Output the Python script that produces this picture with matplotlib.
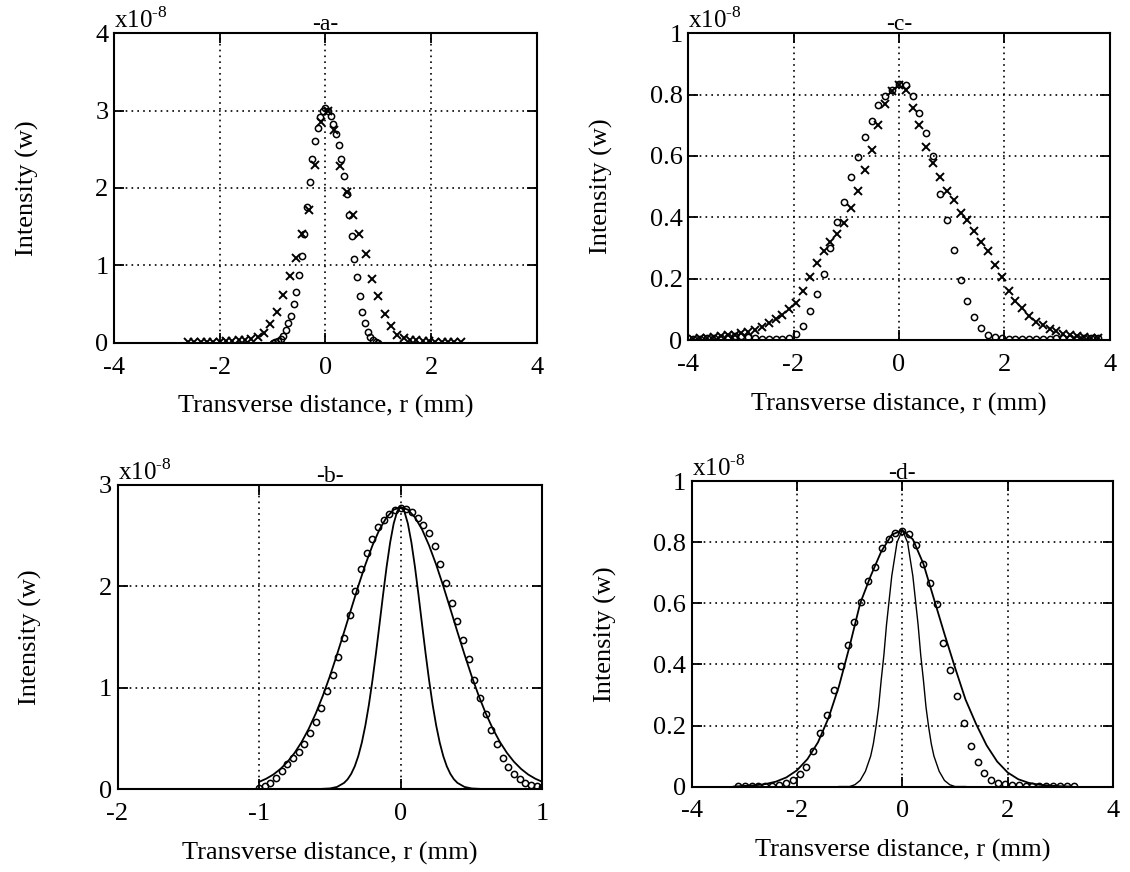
import matplotlib
matplotlib.use("Agg")
import matplotlib.pyplot as plt

plt.rcParams['font.family'] = ['Liberation Serif', 'DejaVu Serif']
plt.rcParams['mathtext.fontset'] = 'custom'
plt.rcParams['mathtext.rm'] = 'Liberation Serif'
plt.rcParams['axes.unicode_minus'] = False

# ---- panel a : circles (narrow) and x marks (wider)
a_circ_x = [-1.00, -0.95, -0.90, -0.85, -0.80, -0.75, -0.70, -0.65, -0.60, -0.55,
            -0.50, -0.45, -0.40, -0.35, -0.30, -0.25, -0.20, -0.15, -0.10, -0.05,
            0.00, 0.05, 0.10, 0.15, 0.20, 0.25, 0.30, 0.35, 0.40, 0.45,
            0.50, 0.55, 0.60, 0.65, 0.70, 0.75, 0.80, 0.85, 0.90, 0.95, 1.00]
a_circ_y = [0.00, 0.01, 0.02, 0.05, 0.09, 0.16, 0.25, 0.35, 0.50, 0.66,
            0.88, 1.12, 1.40, 1.75, 2.08, 2.38, 2.60, 2.78, 2.92, 3.00,
            3.03, 3.00, 2.93, 2.83, 2.70, 2.55, 2.38, 2.15, 1.92, 1.65,
            1.38, 1.08, 0.85, 0.60, 0.40, 0.25, 0.14, 0.07, 0.03, 0.01, 0.00]
a_x_x = [-2.60, -2.48, -2.36, -2.24, -2.12, -2.00, -1.88, -1.76, -1.64, -1.52,
         -1.40, -1.28, -1.16, -1.04, -0.92, -0.80, -0.68, -0.56, -0.44, -0.32,
         -0.20, -0.08, 0.04, 0.16, 0.28, 0.40, 0.52, 0.64, 0.76, 0.88,
         1.00, 1.12, 1.24, 1.36, 1.48, 1.60, 1.72, 1.84, 1.96, 2.08,
         2.20, 2.32, 2.44, 2.56]
a_x_y = [0.01, 0.01, 0.01, 0.01, 0.01, 0.01, 0.02, 0.02, 0.03, 0.04,
         0.05, 0.08, 0.13, 0.24, 0.40, 0.62, 0.86, 1.10, 1.40, 1.72,
         2.30, 2.85, 3.00, 2.75, 2.28, 1.95, 1.65, 1.40, 1.14, 0.82,
         0.60, 0.37, 0.22, 0.10, 0.06, 0.04, 0.03, 0.02, 0.02, 0.01,
         0.01, 0.01, 0.01, 0.01]

# ---- panel b : two solid curves and circles
b_wide_x = [-1.00, -0.95, -0.90, -0.85, -0.80, -0.75, -0.70, -0.65, -0.60, -0.55,
            -0.50, -0.45, -0.40, -0.35, -0.30, -0.25, -0.20, -0.15, -0.10, -0.05,
            0.00, 0.05, 0.10, 0.15, 0.20, 0.25, 0.30, 0.35, 0.40, 0.45,
            0.50, 0.55, 0.60, 0.65, 0.70, 0.75, 0.80, 0.85, 0.90, 0.95, 1.00]
b_wide_y = [0.072, 0.103, 0.144, 0.199, 0.269, 0.357, 0.465, 0.595, 0.747, 0.922,
            1.116, 1.328, 1.550, 1.777, 2.002, 2.213, 2.402, 2.561, 2.680, 2.755,
            2.780, 2.755, 2.680, 2.561, 2.402, 2.213, 2.002, 1.777, 1.550, 1.328,
            1.116, 0.922, 0.747, 0.595, 0.465, 0.357, 0.269, 0.199, 0.144, 0.103, 0.072]
b_narrow_x = [-1.00, -0.60, -0.50, -0.45, -0.40, -0.375, -0.35, -0.325, -0.30, -0.275,
              -0.25, -0.225, -0.20, -0.175, -0.15, -0.125, -0.10, -0.075, -0.05, -0.025,
              0.00, 0.025, 0.05, 0.075, 0.10, 0.125, 0.15, 0.175, 0.20, 0.225,
              0.25, 0.275, 0.30, 0.325, 0.35, 0.375, 0.40, 0.45, 0.50, 0.60, 1.00]
b_narrow_y = [0.0, 0.0, 0.007, 0.022, 0.062, 0.098, 0.151, 0.225, 0.326, 0.459,
              0.628, 0.833, 1.073, 1.341, 1.627, 1.917, 2.192, 2.432, 2.619, 2.739,
              2.780, 2.739, 2.619, 2.432, 2.192, 1.917, 1.627, 1.341, 1.073, 0.833,
              0.628, 0.459, 0.326, 0.225, 0.151, 0.098, 0.062, 0.022, 0.007, 0.0, 0.0]
b_circ_x = [-1.00, -0.96, -0.92, -0.88, -0.84, -0.80, -0.76, -0.72, -0.68, -0.64,
            -0.60, -0.56, -0.52, -0.48, -0.44, -0.40, -0.36, -0.32, -0.28, -0.24,
            -0.20, -0.16, -0.12, -0.08, -0.04, 0.00, 0.04, 0.08, 0.12, 0.16,
            0.20, 0.24, 0.28, 0.32, 0.36, 0.40, 0.44, 0.48, 0.52, 0.56,
            0.60, 0.64, 0.68, 0.72, 0.76, 0.80, 0.84, 0.88, 0.92, 0.96, 1.00]
b_circ_y = [0.01, 0.03, 0.06, 0.11, 0.18, 0.25, 0.31, 0.37, 0.45, 0.55,
            0.66, 0.80, 0.97, 1.13, 1.30, 1.49, 1.72, 1.95, 2.17, 2.33,
            2.47, 2.58, 2.65, 2.71, 2.75, 2.77, 2.76, 2.73, 2.67, 2.60,
            2.53, 2.40, 2.22, 2.03, 1.84, 1.66, 1.47, 1.28, 1.08, 0.90,
            0.74, 0.58, 0.45, 0.31, 0.22, 0.15, 0.10, 0.06, 0.04, 0.03, 0.02]

# ---- panel c : circles and x marks
c_x = [-3.90, -3.77, -3.64, -3.51, -3.38, -3.25, -3.12, -2.99, -2.86, -2.73,
       -2.60, -2.47, -2.34, -2.21, -2.08, -1.95, -1.82, -1.69, -1.56, -1.43,
       -1.30, -1.17, -1.04, -0.91, -0.78, -0.65, -0.52, -0.39, -0.26, -0.13,
       0.00, 0.13, 0.26, 0.39, 0.52, 0.65, 0.78, 0.91, 1.04, 1.17,
       1.30, 1.43, 1.56, 1.69, 1.82, 1.95, 2.08, 2.21, 2.34, 2.47,
       2.60, 2.73, 2.86, 2.99, 3.12, 3.25, 3.38, 3.51, 3.64, 3.77]
c_circ_y = [0.005, 0.005, 0.006, 0.007, 0.008, 0.010, 0.012, 0.013, 0.010, 0.007,
            0.005, 0.004, 0.004, 0.005, 0.008, 0.020, 0.045, 0.095, 0.150, 0.215,
            0.300, 0.385, 0.450, 0.530, 0.595, 0.660, 0.715, 0.765, 0.795, 0.815,
            0.835, 0.830, 0.796, 0.740, 0.675, 0.600, 0.475, 0.390, 0.293, 0.197,
            0.128, 0.076, 0.038, 0.018, 0.010, 0.006, 0.005, 0.005, 0.005, 0.005,
            0.005, 0.005, 0.005, 0.006, 0.006, 0.007, 0.008, 0.008, 0.007, 0.006]
c_xm_y = [0.005, 0.006, 0.008, 0.010, 0.012, 0.015, 0.018, 0.022, 0.027, 0.033,
          0.042, 0.055, 0.068, 0.082, 0.100, 0.122, 0.160, 0.205, 0.250, 0.290,
          0.320, 0.345, 0.380, 0.430, 0.485, 0.555, 0.620, 0.700, 0.770, 0.810,
          0.830, 0.815, 0.755, 0.700, 0.630, 0.577, 0.530, 0.485, 0.455, 0.415,
          0.390, 0.355, 0.320, 0.290, 0.245, 0.205, 0.160, 0.128, 0.105, 0.078,
          0.060, 0.048, 0.036, 0.028, 0.020, 0.015, 0.012, 0.010, 0.008, 0.006]

# ---- panel d : two solid curves and circles
d_wide_x = [-3.2, -3.0, -2.8, -2.6, -2.4, -2.2, -2.0, -1.8, -1.6, -1.4,
            -1.2, -1.0, -0.8, -0.6, -0.4, -0.2, 0.0, 0.2, 0.4, 0.6,
            0.8, 1.0, 1.2, 1.4, 1.6, 1.8, 2.0, 2.2, 2.4, 2.6,
            2.8, 3.0, 3.2]
d_wide_y = [0.0, 0.002, 0.004, 0.008, 0.016, 0.030, 0.053, 0.090, 0.145, 0.225,
            0.330, 0.460, 0.600, 0.690, 0.770, 0.825, 0.840, 0.810, 0.730, 0.615,
            0.500, 0.390, 0.285, 0.205, 0.135, 0.082, 0.046, 0.024, 0.012, 0.006,
            0.003, 0.001, 0.0]
d_narrow_x = [-1.2, -1.0, -0.9, -0.8, -0.7, -0.6, -0.55, -0.5, -0.45, -0.4,
              -0.35, -0.3, -0.25, -0.2, -0.1, 0.0, 0.1, 0.2, 0.25, 0.3,
              0.35, 0.4, 0.45, 0.5, 0.55, 0.6, 0.7, 0.8, 0.9, 1.0, 1.2]
d_narrow_y = [0.0, 0.0, 0.006, 0.02, 0.05, 0.10, 0.14, 0.195, 0.26, 0.35,
              0.43, 0.53, 0.61, 0.69, 0.80, 0.84, 0.80, 0.69, 0.61, 0.53,
              0.43, 0.35, 0.26, 0.195, 0.14, 0.10, 0.05, 0.02, 0.006, 0.0, 0.0]
d_circ_x = [-3.12, -2.99, -2.86, -2.73, -2.60, -2.47, -2.34, -2.21, -2.08, -1.95,
            -1.82, -1.69, -1.56, -1.43, -1.30, -1.17, -1.04, -0.91, -0.78, -0.65,
            -0.52, -0.39, -0.26, -0.13, 0.00, 0.13, 0.26, 0.39, 0.52, 0.65,
            0.78, 0.91, 1.04, 1.17, 1.30, 1.43, 1.56, 1.69, 1.82, 1.95,
            2.08, 2.21, 2.34, 2.47, 2.60, 2.73, 2.86, 2.99, 3.12, 3.25]
d_circ_y = [0.002, 0.002, 0.002, 0.002, 0.002, 0.003, 0.004, 0.010, 0.022, 0.040,
            0.065, 0.115, 0.175, 0.235, 0.315, 0.395, 0.465, 0.540, 0.605, 0.675,
            0.720, 0.780, 0.810, 0.830, 0.838, 0.828, 0.790, 0.728, 0.668, 0.597,
            0.470, 0.383, 0.296, 0.207, 0.133, 0.080, 0.045, 0.022, 0.013, 0.008,
            0.005, 0.004, 0.003, 0.003, 0.003, 0.003, 0.003, 0.003, 0.003, 0.003]

fig = plt.figure(figsize=(11.3, 8.72), dpi=100)
ax_a = fig.add_axes([0.101, 0.607, 0.374, 0.355])
ax_c = fig.add_axes([0.609, 0.610, 0.373, 0.352])
ax_b = fig.add_axes([0.104, 0.095, 0.376, 0.349])
ax_d = fig.add_axes([0.612, 0.098, 0.373, 0.350])

circ = dict(marker='o', ls='none', mfc='none', mec='black', ms=4.5, mew=1.1)
xmk = dict(marker='x', ls='none', color='black', ms=5.5, mew=1.4)


def style(ax, title, xticks, yticks, ylabels):
    ax.set_xlim(xticks[0], xticks[-1])
    ax.set_ylim(yticks[0], yticks[-1])
    ax.set_xticks(xticks)
    ax.set_yticks(yticks)
    ax.set_xticklabels([str(t) for t in xticks])
    ax.set_yticklabels(ylabels)
    ax.grid(True, color='black', ls=(0, (1, 2.5)), lw=1.2)
    ax.tick_params(direction='in', top=True, right=True, length=7, width=1.3,
                   labelsize=19)
    ax.tick_params(axis='x', pad=10)
    ax.tick_params(axis='y', pad=4)
    for s in ax.spines.values():
        s.set_linewidth(1.5)
    ax.set_title(title, fontsize=17, pad=2)
    ax.text(0.0, 1.0, r'x10$^{\text{-8}}$', transform=ax.transAxes, fontsize=18,
            ha='left', va='bottom')
    ax.set_xlabel('Transverse distance, r (mm)', fontsize=19, labelpad=12)
    ax.set_ylabel('Intensity (w)', fontsize=19)
    ax.yaxis.set_label_coords(-0.178, 0.5)


ax_a.plot(a_x_x, a_x_y, **xmk)
ax_a.plot(a_circ_x, a_circ_y, **circ)
style(ax_a, '-a-', [-4, -2, 0, 2, 4], [0, 1, 2, 3, 4], ['0', '1', '2', '3', '4'])

ax_c.plot(c_x, c_xm_y, **xmk)
ax_c.plot(c_x, c_circ_y, **circ)
style(ax_c, '-c-', [-4, -2, 0, 2, 4], [0, 0.2, 0.4, 0.6, 0.8, 1.0],
      ['0', '0.2', '0.4', '0.6', '0.8', '1'])

ax_b.plot(b_wide_x, b_wide_y, color='black', lw=1.3)
ax_b.plot(b_narrow_x, b_narrow_y, color='black', lw=1.3)
ax_b.plot(b_circ_x, b_circ_y, **circ)
style(ax_b, '-b-', [-2, -1, 0, 1], [0, 1, 2, 3], ['0', '1', '2', '3'])

ax_d.plot(d_wide_x, d_wide_y, color='black', lw=1.3)
ax_d.plot(d_narrow_x, d_narrow_y, color='black', lw=1.0)
ax_d.plot(d_circ_x, d_circ_y, **circ)
style(ax_d, '-d-', [-4, -2, 0, 2, 4], [0, 0.2, 0.4, 0.6, 0.8, 1.0],
      ['0', '0.2', '0.4', '0.6', '0.8', '1'])

fig.savefig('out.png', dpi=100)
